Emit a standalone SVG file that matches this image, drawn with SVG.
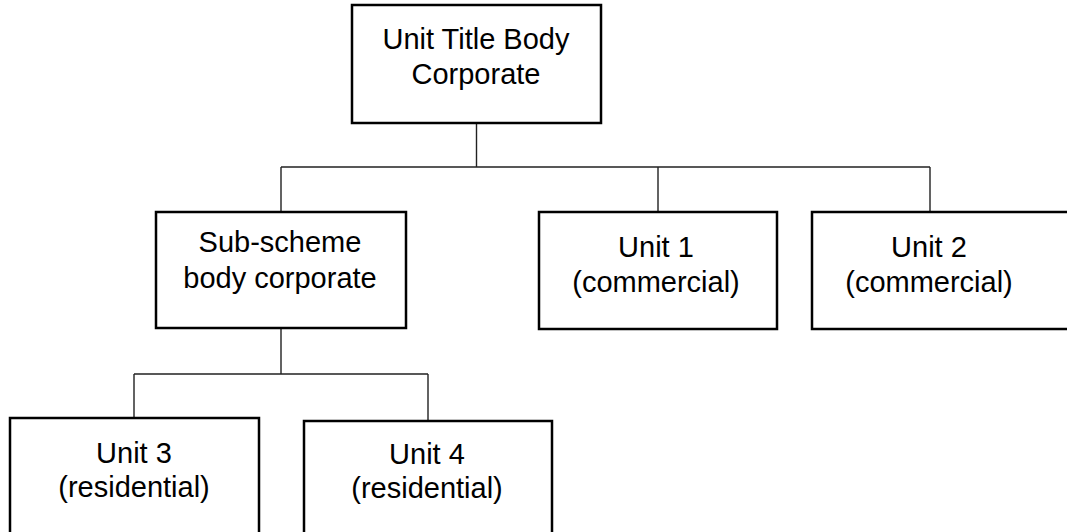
<svg xmlns="http://www.w3.org/2000/svg" width="1067" height="532" viewBox="0 0 1067 532">
<style>
.box{fill:#fff;stroke:#000;stroke-width:2.5}
.con{fill:none;stroke:#222;stroke-width:1.4}
text{font-family:"Liberation Sans",Arial,sans-serif;font-size:29px;fill:#000;text-anchor:middle}
</style>
<rect width="1067" height="532" fill="#fff"/>
<g id="connectors">
<path class="con" d="M476.5,123 V167 M281,167 H930 M281,167 V212 M658,167 V212 M930,167 V212"/>
<path class="con" d="M281,328 V374 M134,374 H428 M134,374 V418 M428,374 V421"/>
</g>
<g id="node-top">
<rect class="box" x="352" y="5" width="249" height="118"/>
<text x="476" y="49">Unit Title Body</text>
<text x="476" y="84">Corporate</text>
</g>
<g id="node-sub">
<rect class="box" x="156" y="212" width="250" height="116"/>
<text x="280" y="252">Sub-scheme</text>
<text x="280" y="288">body corporate</text>
</g>
<g id="node-unit1">
<rect class="box" x="539" y="212" width="238" height="117"/>
<text x="656" y="257">Unit 1</text>
<text x="656" y="292">(commercial)</text>
</g>
<g id="node-unit2">
<rect class="box" x="812" y="212" width="270" height="117"/>
<text x="929" y="257">Unit 2</text>
<text x="929" y="292">(commercial)</text>
</g>
<g id="node-unit3">
<rect class="box" x="10" y="418" width="249" height="130"/>
<text x="134" y="463">Unit 3</text>
<text x="134" y="497">(residential)</text>
</g>
<g id="node-unit4">
<rect class="box" x="304" y="421" width="248" height="130"/>
<text x="427" y="464">Unit 4</text>
<text x="427" y="498">(residential)</text>
</g>
</svg>
